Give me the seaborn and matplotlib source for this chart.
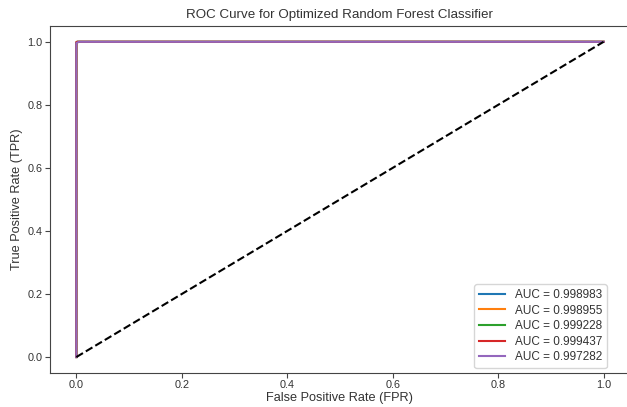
import matplotlib
matplotlib.use("Agg")
import matplotlib.pyplot as plt
import seaborn as sns
import pandas as pd

labels = ["AUC = 0.998983", "AUC = 0.998955", "AUC = 0.999228", "AUC = 0.999437", "AUC = 0.997282"]
fpr_list = [
    [0.0, 0.0, 0.002, 1.0],
    [0.0, 0.0, 0.002, 1.0],
    [0.0, 0.0, 0.0015, 1.0],
    [0.0, 0.0, 0.001, 1.0],
    [0.0, 0.0, 0.005, 1.0],
]
tpr_list = [
    [0.0, 0.997, 1.0, 1.0],
    [0.0, 0.997, 1.0, 1.0],
    [0.0, 0.998, 1.0, 1.0],
    [0.0, 0.999, 1.0, 1.0],
    [0.0, 0.996, 1.0, 1.0],
]
colors = ["#1f77b4", "#ff7f0e", "#2ca02c", "#d62728", "#9467bd"]

rows = []
for lab, f, t in zip(labels, fpr_list, tpr_list):
    for i, (a, b) in enumerate(zip(f, t)):
        rows.append({"fpr": a, "tpr": b, "model": lab, "order": i})
df = pd.DataFrame(rows)

plt.rcParams["font.family"] = ["Liberation Sans", "DejaVu Sans"]
txt = "#333333"
fig = plt.figure(figsize=(6.27, 4.07), dpi=100)
ax = fig.add_axes([0.0797, 0.084, 0.925, 0.852])

sns.lineplot(data=df, x="fpr", y="tpr", hue="model", palette=colors, sort=False,
             estimator=None, units="model", ax=ax, linewidth=1.5)
ax.plot([0, 1], [0, 1], "k--", linewidth=1.5)
ax.set_xlabel("False Positive Rate (FPR)", fontsize=9.2, color=txt)
ax.set_ylabel("True Positive Rate (TPR)", fontsize=9.2, color=txt)
ax.xaxis.set_label_coords(0.5, -0.056)
ax.yaxis.set_label_coords(-0.046, 0.5)
ax.set_title("ROC Curve for Optimized Random Forest Classifier", fontsize=9.6, color=txt, pad=6)
ax.tick_params(labelsize=7.8, length=3.5, pad=2, labelcolor=txt, color="#444444")
for s in ax.spines.values():
    s.set_color("#444444")
ax.set_xlim(-0.05, 1.05)
ax.set_ylim(-0.05, 1.05)
leg = ax.legend(loc="lower right", fontsize=8.5, bbox_to_anchor=(0.97, -0.003),
                labelspacing=0.3, handlelength=2.2)
leg.set_title(None)
for t in leg.get_texts():
    t.set_color(txt)
fig.savefig("out.png", dpi=100)
